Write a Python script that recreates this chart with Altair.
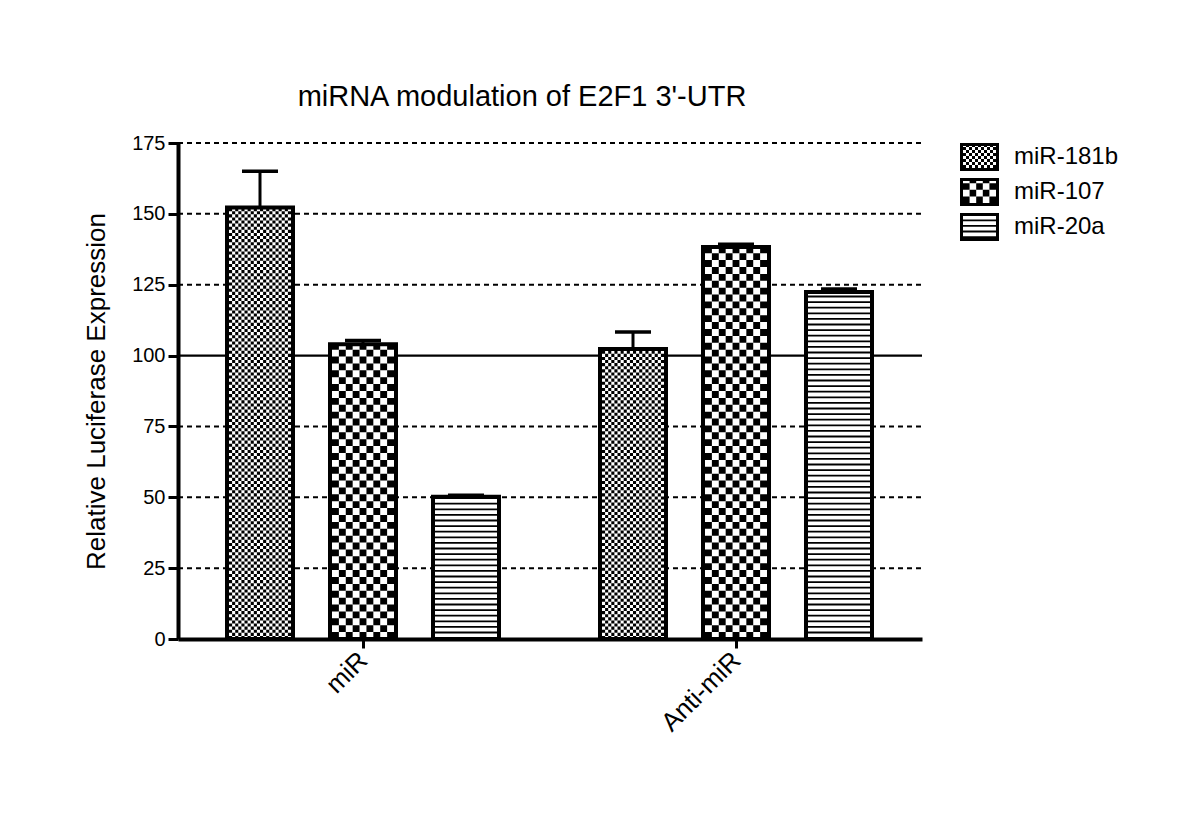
import altair as alt
import pandas as pd

# ---- data ----
GROUPS = ["miR", "Anti-miR"]
SERIES = ["miR-181b", "miR-107", "miR-20a"]
MIR_VALUES = [152.2, 104.0, 50.2]
ANTI_VALUES = [102.3, 138.3, 122.4]
MIR_ERR = [12.8, 1.3, 0.5]
ANTI_ERR = [6.0, 1.0, 1.1]
Y_TICKS = [0, 25, 50, 75, 100, 125, 150, 175]
REFERENCE_LINE = 100
TITLE = "miRNA modulation of E2F1 3'-UTR"
Y_TITLE = "Relative Luciferase Expression"

# ---- layout / style constants (pixels) ----
PLOT_W, PLOT_H = 744, 496
FIRST, SLOT, GROUP_STEP = 82, 103, 373
HALF = 33           # half of bar width (stroke centre)
INNER = 62          # inner patterned width
CAP = 18
FONT = "Liberation Sans"
N_FINE, N_COARSE = 20, 9          # checker columns in the bars
LN_FINE, LN_COARSE = 11, 5        # checker columns in legend swatches

rows = []
for gi, (g, vals, errs) in enumerate(zip(GROUPS, [MIR_VALUES, ANTI_VALUES], [MIR_ERR, ANTI_ERR])):
    for si, (s, v, e) in enumerate(zip(SERIES, vals, errs)):
        rows.append(dict(group=g, series=s, gi=gi, si=si, value=v, err=e))
df = pd.DataFrame(rows)


def with_columns(frame, n_fine, n_coarse):
    """Repeat each checker-patterned row once per pattern column (column index only)."""
    out = []
    ncols = {SERIES[0]: n_fine, SERIES[1]: n_coarse, SERIES[2]: 1}
    for rec in frame.to_dict("records"):
        for c in range(ncols[rec["series"]]):
            r = dict(rec)
            r["col"] = c
            out.append(r)
    return pd.DataFrame(out)


centers = [FIRST + SLOT + gi * GROUP_STEP for gi in range(len(GROUPS))]
label_expr = " : ".join(
    [f"datum.value == {c} ? '{g}'" for c, g in zip(centers[:-1], GROUPS[:-1])] + [f"'{GROUPS[-1]}'"]
)

xs = alt.Scale(domain=[0, PLOT_W], nice=False, zero=False)
ys = alt.Scale(domain=[0, 175], nice=False)


def main_base(frame):
    return alt.Chart(frame).transform_calculate(
        cx=f"{FIRST} + datum.gi * {GROUP_STEP} + datum.si * {SLOT}"
    ).transform_calculate(
        zero="0",
        top="datum.value + datum.err",
        xl=f"datum.cx - {HALF}",
        xr=f"datum.cx + {HALF}",
        cl=f"datum.cx - {CAP}",
        cr=f"datum.cx + {CAP}",
    )


def pattern_layers(src, inner_w, n_fine, n_coarse, xscale, yscale, y0, y1, axis_none=False):
    ax = dict(axis=None) if axis_none else {}
    layers = []
    for s, n in [(SERIES[0], n_fine), (SERIES[1], n_coarse)]:
        cw = inner_w / n
        for parity in (0, 1):
            lay = (
                src.transform_filter(alt.datum.series == s)
                .transform_filter(f"datum.col % 2 == {parity}")
                .transform_calculate(px=f"datum.cx - {inner_w / 2} + (datum.col + 0.5) * {cw}")
                .mark_rule(color="black", strokeWidth=cw, strokeDash=[cw, cw], strokeCap="butt",
                           strokeDashOffset=parity * cw)
                .encode(x=alt.X("px:Q", scale=xscale, **ax),
                        y=alt.Y(f"{y0}:Q", scale=yscale, **ax),
                        y2=f"{y1}:Q")
            )
            layers.append(lay)
    stripes = (
        src.transform_filter(alt.datum.series == SERIES[2])
        .mark_rule(color="black", strokeWidth=inner_w, strokeDash=[1.8, 3.8], strokeCap="butt")
        .encode(x=alt.X("cx:Q", scale=xscale, **ax),
                y=alt.Y(f"{y0}:Q", scale=yscale, **ax),
                y2=f"{y1}:Q")
    )
    layers.append(stripes)
    return layers


base = main_base(df)
pbase = main_base(with_columns(df, N_FINE, N_COARSE))

# grid lines as rules (dashed, with the 100 reference line solid)
gdf = pd.DataFrame({"tick": [t for t in Y_TICKS if t > 0]})
gbase = alt.Chart(gdf).transform_calculate(gx0="0", gx1=f"{PLOT_W}")
grid_dash = gbase.transform_filter(alt.datum.tick != REFERENCE_LINE).mark_rule(
    color="black", strokeWidth=2, strokeDash=[5, 4]).encode(
    x=alt.X("gx0:Q", scale=xs), x2="gx1:Q", y=alt.Y("tick:Q", scale=ys))
grid_solid = gbase.transform_filter(alt.datum.tick == REFERENCE_LINE).mark_rule(
    color="black", strokeWidth=2.2).encode(
    x=alt.X("gx0:Q", scale=xs), x2="gx1:Q", y=alt.Y("tick:Q", scale=ys))

bars = base.mark_rect(fill="white", stroke="black", strokeWidth=4, strokeJoin="miter").encode(
    x=alt.X("xl:Q", scale=xs, axis=alt.Axis(
        values=centers, labelExpr=label_expr, title=None, grid=False,
        labelAngle=-45, labelAlign="right", labelBaseline="middle", labelFontSize=26,
        labelPadding=8, tickSize=9, tickWidth=3, domainWidth=4,
    )),
    x2="xr:Q",
    y=alt.Y("zero:Q", scale=ys, axis=alt.Axis(
        values=Y_TICKS, title=Y_TITLE, grid=False,
        labelFontSize=20, labelPadding=3, tickSize=10, tickWidth=3, domainWidth=4,
        titleFontSize=26, titlePadding=22,
    )),
    y2="value:Q",
)

err_v = base.mark_rule(color="black", strokeWidth=3).encode(
    x=alt.X("cx:Q", scale=xs), y=alt.Y("value:Q", scale=ys), y2="top:Q")
err_cap = base.mark_rule(color="black", strokeWidth=3.5).encode(
    x=alt.X("cl:Q", scale=xs), x2="cr:Q", y=alt.Y("top:Q", scale=ys))

main = alt.layer(
    grid_dash, grid_solid, bars,
    *pattern_layers(pbase, INNER, N_FINE, N_COARSE, xs, ys, "zero", "value"), err_v, err_cap
).properties(width=PLOT_W, height=PLOT_H)

# ---- legend as its own small chart with patterned swatches ----
LEG_W, LEG_H, PITCH, SW_W, SW_H = 170, 105, 35, 39, 28
ldf = pd.DataFrame({"series": SERIES, "i": list(range(len(SERIES)))})
lxs = alt.Scale(domain=[0, LEG_W], nice=False, zero=False)
lys = alt.Scale(domain=[LEG_H, 0], nice=False, zero=False)


def legend_base(frame):
    return alt.Chart(frame).transform_calculate(
        cx=f"{SW_W / 2}",
        rx0="1.5", rx1=f"{SW_W - 1.5}",
        ry0=f"datum.i * {PITCH} + 1.5", ry1=f"datum.i * {PITCH} + {SW_H - 1.5}",
        pb=f"datum.i * {PITCH} + {SW_H - 3}", pt=f"datum.i * {PITCH} + 3",
        ty=f"datum.i * {PITCH} + {SW_H / 2}", tx="54",
    )


lbase = legend_base(ldf)
lpbase = legend_base(with_columns(ldf, LN_FINE, LN_COARSE))
lrect = lbase.mark_rect(fill="white", stroke="black", strokeWidth=3, strokeJoin="miter").encode(
    x=alt.X("rx0:Q", scale=lxs, axis=None), x2="rx1:Q",
    y=alt.Y("ry0:Q", scale=lys, axis=None), y2="ry1:Q")
ltext = lbase.mark_text(align="left", baseline="middle", fontSize=24, font=FONT, color="black").encode(
    x=alt.X("tx:Q", scale=lxs, axis=None), y=alt.Y("ty:Q", scale=lys, axis=None), text="series:N")
legend = alt.layer(
    lrect, *pattern_layers(lpbase, SW_W - 6, LN_FINE, LN_COARSE, lxs, lys, "pb", "pt", axis_none=True),
    ltext,
).properties(width=LEG_W, height=LEG_H)

chart = alt.hconcat(main, legend, spacing=36).properties(
    title=alt.TitleParams(TITLE, fontSize=29, font=FONT, fontWeight="normal", color="black",
                          anchor="start", dx=214, offset=21),
    padding={"left": 75, "top": 75, "right": 5, "bottom": 5},
).configure_view(stroke=None).configure_axis(
    labelFont=FONT, titleFont=FONT, labelColor="black", titleColor="black",
    domainColor="black", tickColor="black", titleFontWeight="normal",
)

chart.save("out.html", embed_options={"renderer": "svg", "actions": False})
